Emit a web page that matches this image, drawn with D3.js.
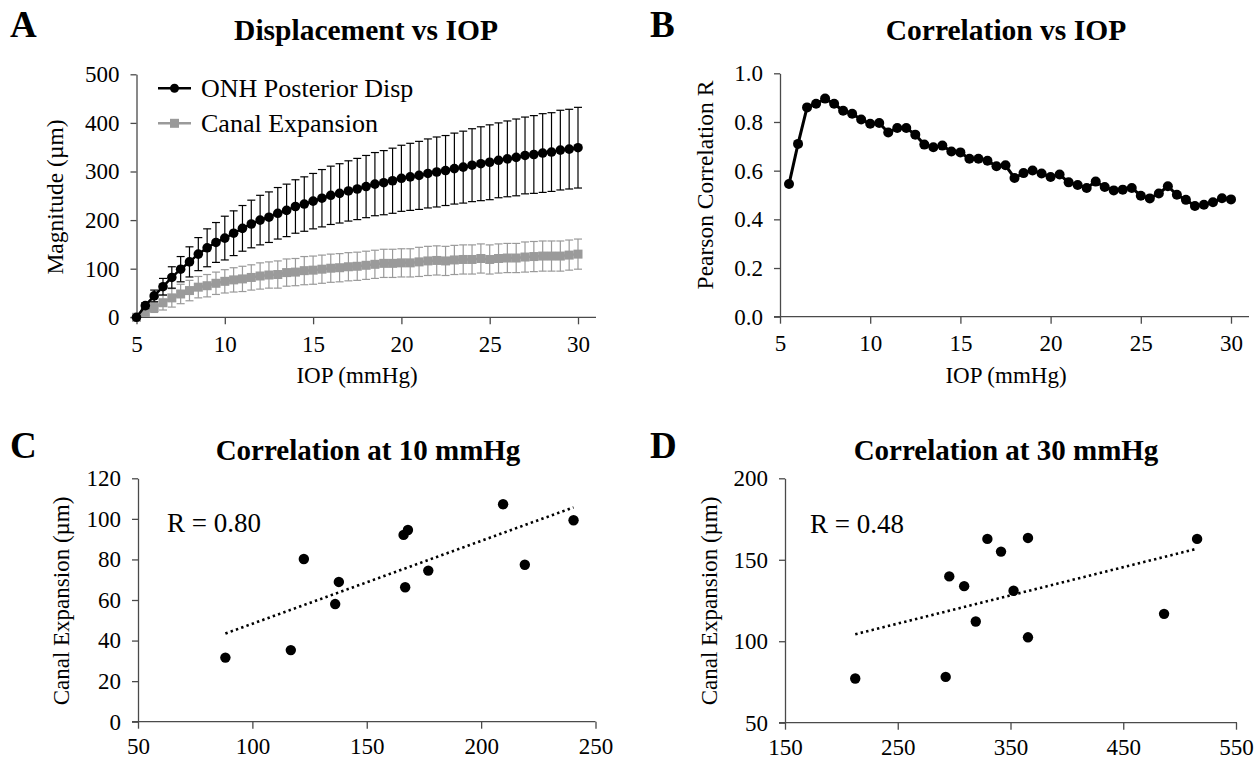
<!DOCTYPE html>
<html><head><meta charset="utf-8">
<script src="https://cdn.jsdelivr.net/npm/d3@7"></script>
<style>
body{margin:0;background:#fff}
svg{display:block;background:#fff}
text{font-family:"Liberation Serif","Times New Roman",serif;fill:#000}
</style>
</head><body>
<svg id="chart" width="1260" height="762"></svg>
<script>
// ---------- DATA ----------
const iopA = [5,5.5,6,6.5,7,7.5,8,8.5,9,9.5,10,10.5,11,11.5,12,12.5,13,13.5,14,14.5,15,15.5,16,16.5,17,17.5,18,18.5,19,19.5,20,20.5,21,21.5,22,22.5,23,23.5,24,24.5,25,25.5,26,26.5,27,27.5,28,28.5,29,29.5,30];
const onhDisp = [0,24,44,63,82,99,114,130,143,154,163,173,183,192,200,206,214,220,228,233,239,245,251,255,260,264,269,274,277,281,286,289,292,296,299,302,306,309,313,316,319,323,326,329,333,335,338,340,344,346,349];
const onhSD   = [0,6,12,17,22,26,31,34,39,41,45,46,47,49,51,52,53,54,55,56,57,59,60,61,62,63,64,65,66,67,68,69,70,71,72,72,73,74,75,76,77,77,78,79,79,80,81,81,82,82,83];
const canalExp = [0,10,20,30,40,48,55,62,65,70,74,77,79,82,85,87,88,92,93,96,97,99,101,102,104,105,107,109,111,111,112,112,114,116,117,116,118,119,119,121,119,121,122,122,124,125,126,126,126,128,130];
const canalSD   = [0,5,10,15,19,20,21,22,23,23,24,25,26,26,27,27,28,28,28,29,29,29,29,29,29,29,29,29,29,29,29,29,30,30,30,30,30,30,30,30,30,30,30,30,31,31,31,31,31,31,31];
const seriesNames = ["ONH Posterior Disp","Canal Expansion"];

const iopB = [5.5,6,6.5,7,7.5,8,8.5,9,9.5,10,10.5,11,11.5,12,12.5,13,13.5,14,14.5,15,15.5,16,16.5,17,17.5,18,18.5,19,19.5,20,20.5,21,21.5,22,22.5,23,23.5,24,24.5,25,25.5,26,26.5,27,27.5,28,28.5,29,29.5,30];
const pearsonR = [0.545,0.71,0.86,0.875,0.896,0.875,0.846,0.834,0.81,0.793,0.796,0.757,0.775,0.775,0.748,0.707,0.696,0.703,0.679,0.675,0.649,0.649,0.641,0.618,0.622,0.570,0.590,0.601,0.588,0.574,0.584,0.552,0.541,0.529,0.555,0.533,0.519,0.522,0.529,0.497,0.486,0.506,0.536,0.501,0.480,0.455,0.460,0.470,0.487,0.482];

const onh10 = [88.2,116.8,122.5,136.2,137.8,166.1,168.0,166.8,176.9,209.6,219.1,240.4];
const canal10 = [31.6,35.3,80.2,58.0,68.9,92.1,94.5,66.3,74.5,107.2,77.4,99.3];
const onh30 = [212.3,292.5,295.7,308.9,319.2,329.5,341.6,352.7,365.5,365.5,486.2,515.5];
const canal30 = [77.1,78.1,139.8,133.8,112.1,162.8,155.0,131.0,163.4,102.4,116.8,162.8];

const ticksIop = [5,10,15,20,25,30];
const ticksMag = [0,100,200,300,400,500];
const ticksR = [0,0.2,0.4,0.6,0.8,1.0];
const ticksC_x = [50,100,150,200,250];
const ticksC_y = [0,20,40,60,80,100,120];
const ticksD_x = [150,250,350,450,550];
const ticksD_y = [50,100,150,200];

const titles = ["Displacement vs IOP","Correlation vs IOP","Correlation at 10 mmHg","Correlation at 30 mmHg"];
const letters = ["A","B","C","D"];
const rLabels = ["R = 0.80","R = 0.48"];

// ---------- DRAW ----------
const svg = d3.select("#chart");
const AX = "#4a4a4a";
const GRAY = "#9a9a9a";
const SERIF = '"Liberation Serif","Times New Roman",serif';

function drawAxes(x, y, xt, yt, yFmt, xEnd, xPad, yPad) {
  const g = svg.append("g");
  const x0 = x.range()[0], y0 = y.range()[0];
  const ya = g.append("g").attr("transform", `translate(${x0},0)`)
    .call(d3.axisLeft(y).tickValues(yt).tickSize(6).tickSizeOuter(0).tickPadding(yPad).tickFormat(yFmt));
  const xa = g.append("g").attr("transform", `translate(0,${y0})`)
    .call(d3.axisBottom(x).tickValues(xt).tickSize(7).tickSizeOuter(0).tickPadding(xPad).tickFormat(d3.format("d")));
  xa.select(".domain").attr("d", `M${x0-6},0H${xEnd}`);
  [ya, xa].forEach(a => {
    a.attr("font-family", SERIF).attr("font-size", 23);
    a.select(".domain").attr("stroke", AX).attr("stroke-width", 1.3);
    a.selectAll(".tick line").attr("stroke", AX).attr("stroke-width", 1.3);
    a.selectAll(".tick text").attr("font-size", 23).attr("fill", "#000")
      .attr("font-family", SERIF).style("font-family", SERIF);
  });
  return g;
}

function label(x, y, txt, size, opts = {}) {
  const t = svg.append("text").attr("x", x).attr("y", y).attr("font-size", size).text(txt);
  if (opts.bold) t.attr("font-weight", "bold");
  t.attr("text-anchor", opts.anchor || "start");
  if (opts.rotate) t.attr("transform", `rotate(-90,${x},${y})`);
  return t;
}

// ----- Panel A -----
const xA = d3.scaleLinear().domain([5,30]).range([136.5,578]);
const yA = d3.scaleLinear().domain([0,500]).range([317.3,74.3]);
drawAxes(xA, yA, ticksIop, ticksMag, d3.format("d"), 596, 11, 11);

function errorSeries(xs, ys, sds, color, lineW) {
  const g = svg.append("g");
  const idx = d3.range(xs.length).filter(i => sds[i] > 0);
  g.selectAll("line.v").data(idx).join("line")
    .attr("x1", i => xA(xs[i])).attr("x2", i => xA(xs[i]))
    .attr("y1", i => yA(ys[i] - sds[i])).attr("y2", i => yA(ys[i] + sds[i]))
    .attr("stroke", color).attr("stroke-width", lineW);
  g.selectAll("line.t").data(idx).join("line")
    .attr("x1", i => xA(xs[i]) - 4).attr("x2", i => xA(xs[i]) + 4)
    .attr("y1", i => yA(ys[i] + sds[i])).attr("y2", i => yA(ys[i] + sds[i]))
    .attr("stroke", color).attr("stroke-width", lineW);
  g.selectAll("line.b").data(idx).join("line")
    .attr("x1", i => xA(xs[i]) - 4).attr("x2", i => xA(xs[i]) + 4)
    .attr("y1", i => yA(ys[i] - sds[i])).attr("y2", i => yA(ys[i] - sds[i]))
    .attr("stroke", color).attr("stroke-width", lineW);
}
errorSeries(iopA, canalExp, canalSD, GRAY, 1.2);
svg.append("path").datum(d3.range(iopA.length))
  .attr("d", d3.line().x(i => xA(iopA[i])).y(i => yA(canalExp[i])))
  .attr("fill", "none").attr("stroke", GRAY).attr("stroke-width", 2.5);
svg.append("g").selectAll("rect").data(d3.range(iopA.length)).join("rect")
  .attr("x", i => xA(iopA[i]) - 4.5).attr("y", i => yA(canalExp[i]) - 4.5)
  .attr("width", 9).attr("height", 9).attr("fill", GRAY);

errorSeries(iopA, onhDisp, onhSD, "#000", 1.2);
svg.append("path").datum(d3.range(iopA.length))
  .attr("d", d3.line().x(i => xA(iopA[i])).y(i => yA(onhDisp[i])))
  .attr("fill", "none").attr("stroke", "#000").attr("stroke-width", 2.5);
svg.append("g").selectAll("circle").data(d3.range(iopA.length)).join("circle")
  .attr("cx", i => xA(iopA[i])).attr("cy", i => yA(onhDisp[i])).attr("r", 4.8).attr("fill", "#000");

// legend
const leg = svg.append("g");
[[88.3, "#000", "circle"], [123.3, GRAY, "rect"]].forEach((d, k) => {
  leg.append("line").attr("x1", 158).attr("x2", 191).attr("y1", d[0]).attr("y2", d[0])
    .attr("stroke", d[1]).attr("stroke-width", 2.5);
  if (d[2] === "circle") leg.append("circle").attr("cx", 174.5).attr("cy", d[0]).attr("r", 4.5).attr("fill", d[1]);
  else leg.append("rect").attr("x", 170).attr("y", d[0]-4.5).attr("width", 9).attr("height", 9).attr("fill", d[1]);
  leg.append("text").attr("x", 201).attr("y", d[0]).attr("dy", "0.35em").attr("font-size", 26).text(seriesNames[k]);
});

label(366, 40, titles[0], 29.5, {bold: true, anchor: "middle"});
label(10, 37, letters[0], 37, {bold: true});
label(357, 383, "IOP (mmHg)", 23, {anchor: "middle"});
label(63, 197, "Magnitude (µm)", 23.5, {anchor: "middle", rotate: true});

// ----- Panel B -----
const xB = d3.scaleLinear().domain([5,30]).range([780,1231]);
const yB = d3.scaleLinear().domain([0,1]).range([316.7,73.3]);
drawAxes(xB, yB, ticksIop, ticksR, d3.format(".1f"), 1249, 11, 11);
svg.append("path").datum(d3.range(iopB.length))
  .attr("d", d3.line().x(i => xB(iopB[i])).y(i => yB(pearsonR[i])))
  .attr("fill", "none").attr("stroke", "#000").attr("stroke-width", 3);
svg.append("g").selectAll("circle").data(d3.range(iopB.length)).join("circle")
  .attr("cx", i => xB(iopB[i])).attr("cy", i => yB(pearsonR[i])).attr("r", 5).attr("fill", "#000");
label(1006, 40, titles[1], 29.5, {bold: true, anchor: "middle"});
label(650, 37, letters[1], 37, {bold: true});
label(1006, 383, "IOP (mmHg)", 23, {anchor: "middle"});
label(713, 185, "Pearson Correlation R", 23.5, {anchor: "middle", rotate: true});

// ----- Scatter panels -----
function scatter(xs, ys, x, y) {
  svg.append("g").selectAll("circle").data(d3.range(xs.length)).join("circle")
    .attr("cx", i => x(xs[i])).attr("cy", i => y(ys[i])).attr("r", 5.2).attr("fill", "#000");
  const mx = d3.mean(xs), my = d3.mean(ys);
  const slope = d3.sum(xs, (v, i) => (v - mx) * (ys[i] - my)) / d3.sum(xs, v => (v - mx) ** 2);
  const ext = d3.extent(xs);
  svg.append("path").datum(ext)
    .attr("d", d3.line().x(v => x(v)).y(v => y(my + slope * (v - mx))))
    .attr("fill", "none").attr("stroke", "#000").attr("stroke-width", 2.6).attr("stroke-dasharray", "2.4,3.2");
}

const xC = d3.scaleLinear().domain([50,250]).range([138,595.5]);
const yC = d3.scaleLinear().domain([0,120]).range([721.7,478.3]);
drawAxes(xC, yC, ticksC_x, ticksC_y, d3.format("d"), 595.5, 9, 11);
scatter(onh10, canal10, xC, yC);
label(368, 460, titles[2], 29, {bold: true, anchor: "middle"});
label(10, 458, letters[2], 37, {bold: true});
label(167, 532, rLabels[0], 27);
label(69, 601, "Canal Expansion (µm)", 23, {anchor: "middle", rotate: true});

const xD = d3.scaleLinear().domain([150,550]).range([785,1236]);
const yD = d3.scaleLinear().domain([50,200]).range([722.7,478.3]);
drawAxes(xD, yD, ticksD_x, ticksD_y, d3.format("d"), 1237, 9, 11);
scatter(onh30, canal30, xD, yD);
label(1006, 460, titles[3], 29, {bold: true, anchor: "middle"});
label(650, 458, letters[3], 37, {bold: true});
label(810, 533, rLabels[1], 27);
label(717, 601, "Canal Expansion (µm)", 23, {anchor: "middle", rotate: true});
</script>
</body></html>
